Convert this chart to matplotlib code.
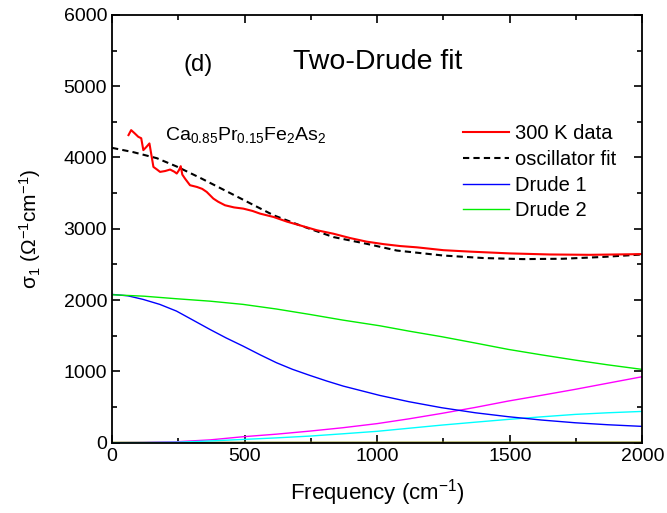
import numpy as np
import matplotlib
matplotlib.use("Agg")
from matplotlib import pyplot as plt

plt.rcParams['font.family'] = ['Liberation Sans', 'DejaVu Sans']
plt.rcParams['mathtext.fontset'] = 'custom'
plt.rcParams['mathtext.rm'] = 'Liberation Sans'
plt.rcParams['mathtext.it'] = 'Liberation Sans:italic'

# 300 K data
red_x = [62, 72, 85, 99, 110, 118, 130, 141, 150, 156, 170, 181, 200, 219, 235, 244, 252, 259,
         265, 275, 294, 320, 340, 357, 382, 400, 426, 460, 495, 530, 558, 609, 660, 709, 772,
         835, 898, 960, 1024, 1087, 1150, 1250, 1350, 1500, 1650, 1800, 1900, 2000]
red_y = [4314, 4384, 4340, 4290, 4270, 4103, 4150, 4197, 4000, 3868, 3830, 3798, 3810, 3831, 3800,
         3775, 3820, 3878, 3760, 3705, 3611, 3587, 3560, 3517, 3424, 3380, 3330, 3300, 3283, 3250,
         3213, 3166, 3100, 3048, 2980, 2931, 2870, 2820, 2785, 2758, 2740, 2700, 2680, 2655, 2640,
         2635, 2640, 2645]
# oscillator fit
fit_x = [0, 80, 169, 244, 332, 458, 609, 709, 835, 961, 1074, 1250, 1400, 1550, 1700, 1850, 2000]
fit_y = [4135, 4075, 3990, 3873, 3715, 3477, 3190, 3048, 2884, 2789, 2695, 2625, 2590, 2575, 2580,
         2605, 2640]
# Drude 1
d1_x = [0, 60, 117, 180, 243, 300, 369, 430, 494, 560, 620, 680, 746, 810, 872, 1010, 1120,
        1243, 1370, 1494, 1620, 1746, 1870, 2000]
d1_y = [2080, 2060, 2010, 1940, 1846, 1730, 1589, 1470, 1355, 1230, 1122, 1030, 944, 865, 794,
        663, 575, 491, 420, 365, 318, 280, 252, 229]
# Drude 2
d2_x = [0, 120, 243, 370, 494, 620, 746, 870, 1010, 1120, 1243, 1370, 1494, 1620, 1746, 1870, 2000]
d2_y = [2075, 2055, 2019, 1985, 1940, 1875, 1799, 1720, 1640, 1565, 1487, 1398, 1309, 1232, 1159,
        1092, 1028]
# other oscillators
mag_x = [0, 120, 250, 370, 494, 620, 746, 870, 1000, 1120, 1243, 1370, 1494, 1620, 1746, 1870, 2000]
mag_y = [0, 3, 15, 40, 84, 120, 163, 210, 268, 335, 411, 495, 584, 665, 748, 835, 926]
cyan_x = [0, 120, 250, 370, 494, 620, 746, 870, 1000, 1120, 1243, 1370, 1494, 1620, 1746, 1870, 2000]
cyan_y = [0, 2, 8, 25, 46, 68, 93, 125, 160, 203, 247, 288, 327, 363, 397, 420, 439]
olive_x = [0, 2000]
olive_y = [5, 8]

fig = plt.figure(figsize=(6.67, 5.13), dpi=100)
ax = fig.add_axes([0.168, 0.137, 0.795, 0.834])

ax.plot(olive_x, olive_y, color='#808000', lw=1)
ax.plot(mag_x, mag_y, color='magenta', lw=1)
ax.plot(cyan_x, cyan_y, color='cyan', lw=1)
l3, = ax.plot(d1_x, d1_y, color='blue', lw=1, label='Drude 1')
l4, = ax.plot(d2_x, d2_y, color='#00ee00', lw=1, label='Drude 2')
l2, = ax.plot(fit_x, fit_y, color='k', lw=1.5, dashes=(3, 2), label='oscillator fit')
l1, = ax.plot(red_x, red_y, color='red', lw=1.5, label='300 K data')

ax.set_xlim(0, 2000)
ax.set_ylim(0, 6000)
ax.set_xticks([0, 500, 1000, 1500, 2000])
ax.set_yticks([0, 1000, 2000, 3000, 4000, 5000, 6000])
ax.set_xticks(np.arange(0, 2001, 250), minor=True)
ax.set_yticks(np.arange(0, 6001, 500), minor=True)
ax.tick_params(which='both', direction='in', top=True, right=True, labelsize=14, width=1.2)
ax.tick_params(which='major', length=6)
ax.tick_params(which='minor', length=3.5)
for s in ax.spines.values():
    s.set_linewidth(1.3)

ax.set_xlabel('Frequency (cm$^{-1}$)', fontsize=16, labelpad=9)
ax.set_ylabel('σ$_1$ (Ω$^{-1}$cm$^{-1}$)', fontsize=15, labelpad=15)

ax.text(681, 5245, 'Two-Drude fit', fontsize=20.5)
ax.text(268, 5212, '(d)', fontsize=17)
ax.text(199, 4240, r'Ca$_{0.85}$Pr$_{0.15}$Fe$_2$As$_2$', fontsize=14)

ax.legend(handles=[l1, l2, l3, l4], loc='upper left', bbox_to_anchor=(0.646, 0.763),
          frameon=False, fontsize=14.5, handlelength=2.3, labelspacing=0.33,
          handletextpad=0.3, borderaxespad=0)

fig.savefig('out.png', dpi=100)
